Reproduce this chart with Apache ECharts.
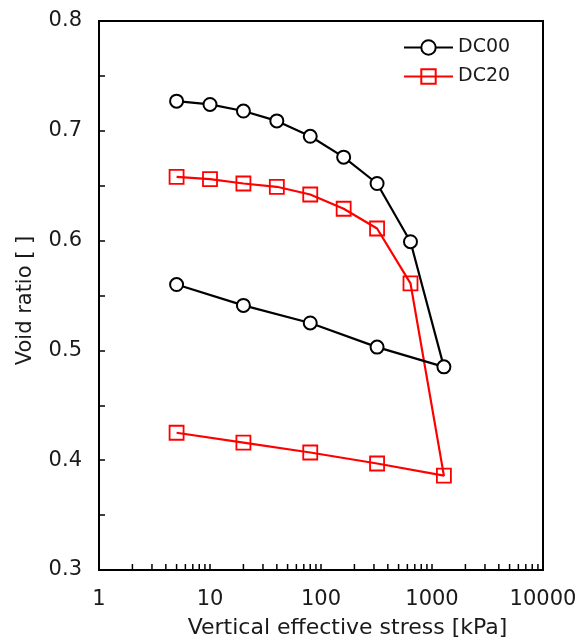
<!DOCTYPE html>
<html>
<head>
<meta charset="utf-8">
<script src="https://cdn.jsdelivr.net/npm/echarts@6/dist/echarts.min.js"></script>
<style>
html,body{margin:0;padding:0;background:#fff;}
#chart{width:575px;height:641px;}
</style>
</head>
<body>
<div id="chart"></div>
<script>
// Data
var seriesNames = ['DC00', 'DC20'];
var stressLoad = [5, 10, 20, 40, 80, 160, 320, 640, 1280];
var stressUnload = [320, 80, 20, 5];
var dc00Load = [0.727, 0.724, 0.718, 0.709, 0.695, 0.676, 0.652, 0.599, 0.485];
var dc00Unload = [0.503, 0.525, 0.541, 0.560];
var dc20Load = [0.658, 0.656, 0.652, 0.649, 0.642, 0.629, 0.611, 0.561, 0.386];
var dc20Unload = [0.397, 0.407, 0.416, 0.425];
var xMinorTickValues = [2,3,4,5,6,7,8,9,20,30,40,50,60,70,80,90,200,300,400,500,600,700,800,900,2000,3000,4000,5000,6000,7000,8000,9000];
var xAxisTitle = 'Vertical effective stress [kPa]';
var yAxisTitle = 'Void ratio [ ]';

function pairs(xs, ys) {
  return xs.map(function (x, i) { return [x, ys[i]]; });
}
var dc00Data = pairs(stressLoad, dc00Load).concat(pairs(stressUnload, dc00Unload));
var dc20Data = pairs(stressLoad, dc20Load).concat(pairs(stressUnload, dc20Unload));

var FONT = 'DejaVu Sans';
var TXT = '#1a1a1a';
var chart = echarts.init(document.getElementById('chart'), null, {renderer: 'canvas'});
chart.setOption({
  animation: false,
  backgroundColor: '#ffffff',
  textStyle: {fontFamily: FONT},
  grid: {
    left: 99, top: 21, right: 32, bottom: 71,
    outerBoundsMode: 'none',
    containLabel: false,
    show: true, borderColor: '#000', borderWidth: 2, backgroundColor: 'transparent'
  },
  legend: {
    data: seriesNames,
    orient: 'vertical',
    left: 403, top: 38, padding: 0,
    itemWidth: 49, itemHeight: 18, itemGap: 10,
    lineStyle: {width: 2},
    textStyle: {fontFamily: FONT, fontSize: 19, color: TXT, lineHeight: 18}
  },
  xAxis: {
    type: 'log', logBase: 10, min: 1, max: 10000,
    name: xAxisTitle, nameLocation: 'middle', nameGap: 47,
    nameTextStyle: {fontFamily: FONT, fontSize: 22, color: TXT, padding: [0, 0, 0, 53]},
    axisLine: {show: true, lineStyle: {color: '#000', width: 2}},
    axisTick: {show: true, inside: true, length: 6, lineStyle: {color: '#000', width: 1.5}},
    axisLabel: {fontFamily: FONT, fontSize: 21, color: TXT, margin: 19,
      formatter: function (v) { return String(v); }},
    splitLine: {show: false}
  },
  yAxis: {
    type: 'value', min: 0.3, max: 0.8, interval: 0.1,
    name: yAxisTitle, nameLocation: 'middle', nameGap: 63, nameRotate: 90,
    nameTextStyle: {fontFamily: FONT, fontSize: 21, color: TXT, padding: [0, 10, 0, 0]},
    axisLine: {show: true, lineStyle: {color: '#000', width: 2}},
    axisTick: {show: true, inside: true, length: 6, lineStyle: {color: '#000', width: 1.5}},
    minorTick: {show: true, splitNumber: 2, length: 6, lineStyle: {color: '#000', width: 1.5}},
    axisLabel: {fontFamily: FONT, fontSize: 21, color: TXT, margin: 17,
      formatter: function (v) { return v.toFixed(1); }},
    splitLine: {show: false},
    minorSplitLine: {show: false}
  },
  series: [
    {
      name: 'DC00', type: 'line', data: dc00Data, z: 3,
      symbol: 'circle', symbolSize: 13,
      lineStyle: {color: '#000', width: 2.2},
      itemStyle: {color: '#fff', borderColor: '#000', borderWidth: 2}
    },
    {
      name: 'DC20', type: 'line', data: dc20Data, z: 2,
      symbol: 'rect', symbolSize: 14,
      lineStyle: {color: '#ff0000', width: 2.2},
      itemStyle: {color: 'rgba(255,255,255,0)', borderColor: '#ff0000', borderWidth: 1.8}
    },
    {
      name: 'xMinorTicks', type: 'custom', silent: true, clip: false, z: 5,
      data: xMinorTickValues.map(function (v) { return [v]; }),
      renderItem: function (params, api) {
        var p = api.coord([api.value(0), 0.3]);
        return {
          type: 'line',
          shape: {x1: p[0], y1: p[1], x2: p[0], y2: p[1] - 6},
          style: {stroke: '#000', lineWidth: 1.5}
        };
      }
    }
  ]
});
</script>
</body>
</html>
